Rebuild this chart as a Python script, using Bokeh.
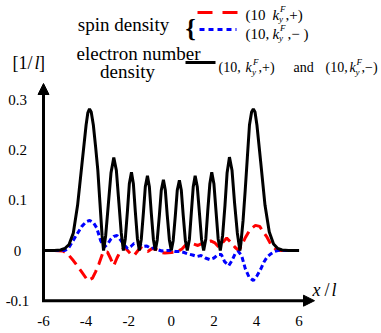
from bokeh.plotting import figure
from bokeh.models import Range1d, Arrow, NormalHead, FixedTicker
from bokeh.core.properties import value
from bokeh.embed import file_html
from bokeh.resources import INLINE

# ---------------- data ----------------
# electron number density (black)
x_num = [-6.0, -5.5, -5.2, -5.0, -4.8, -4.6, -4.4, -4.2, -4.0, -3.92, -3.84, -3.76, -3.66, -3.55, -3.45, -3.35, -3.25, -3.18,
         -3.08, -2.96, -2.83, -2.70, -2.58, -2.46, -2.35, -2.25,
         -2.16, -2.06, -1.97, -1.87, -1.78, -1.69, -1.59, -1.50,
         -1.41, -1.31, -1.22, -1.12, -1.03, -0.94, -0.84, -0.75,
         -0.66, -0.56, -0.47, -0.37, -0.28, -0.19, -0.09, 0.00,
         0.09, 0.19, 0.28, 0.38, 0.47, 0.56, 0.66, 0.75,
         0.85, 0.94, 1.03, 1.12, 1.22, 1.32, 1.42, 1.52,
         1.62, 1.71, 1.81, 1.90, 2.00, 2.10, 2.20, 2.30,
         2.41, 2.52, 2.62, 2.73, 2.85, 2.97, 3.10, 3.22,
         3.27, 3.37, 3.47, 3.57, 3.67, 3.77, 3.85, 3.93, 4.02, 4.20, 4.40, 4.60, 4.80, 5.00, 5.20, 5.50, 6.00]
y_num = [0.0, 0.0, 0.001, 0.004, 0.012, 0.035, 0.09, 0.17, 0.25, 0.274, 0.282, 0.276, 0.25, 0.205, 0.16, 0.095, 0.03, 0.0,
         0.03, 0.09, 0.155, 0.185, 0.16, 0.095, 0.035, 0.0,
         0.023, 0.078, 0.133, 0.156, 0.133, 0.078, 0.023, 0.0,
         0.022, 0.075, 0.127, 0.149, 0.127, 0.075, 0.022, 0.0,
         0.021, 0.07, 0.12, 0.141, 0.12, 0.07, 0.021, 0.0,
         0.02, 0.07, 0.12, 0.14, 0.12, 0.07, 0.02, 0.0,
         0.022, 0.075, 0.127, 0.149, 0.127, 0.075, 0.022, 0.0,
         0.023, 0.078, 0.133, 0.156, 0.133, 0.078, 0.023, 0.0,
         0.03, 0.09, 0.155, 0.186, 0.16, 0.095, 0.035, 0.0,
         0.015, 0.06, 0.12, 0.185, 0.25, 0.276, 0.282, 0.276, 0.25, 0.175, 0.09, 0.037, 0.013, 0.004, 0.001, 0.0, 0.0]

# spin density (10, k_y^F, +)  red dashed
x_up = [-5.5, -5.1, -4.9, -4.6, -4.25, -3.92, -3.7, -3.55, -3.4, -3.2, -3.0, -2.85, -2.7, -2.55, -2.4, -2.2, -2.05,
        -1.9, -1.75, -1.6, -1.45, -1.3, -1.1, -0.9, -0.7, -0.5, -0.3, 0.0, 0.25, 0.5, 0.65, 0.85, 1.05, 1.25, 1.45,
        1.65, 1.85, 2.05, 2.23, 2.4, 2.6, 2.78, 3.0, 3.17, 3.3, 3.48, 3.7, 3.95, 4.15, 4.35, 4.5, 4.7, 4.9, 5.1, 5.5]
y_up = [0.0, -0.001, -0.005, -0.02, -0.04, -0.06, -0.055, -0.042, -0.027, -0.003, -0.003, -0.016, -0.03, -0.015, -0.002,
        0.006, 0.0, -0.007, -0.01, -0.002, 0.006, 0.003, -0.002, 0.004, 0.002, -0.004, -0.005, -0.004, -0.003, 0.003,
        0.01, 0.012, 0.013, 0.01, 0.014, 0.017, 0.019, 0.015, 0.007, 0.015, 0.025, 0.017, 0.006, 0.0, 0.01, 0.026,
        0.042, 0.05, 0.048, 0.035, 0.026, 0.01, 0.003, 0.0, 0.0]

# spin density (10, k_y^F, -)  blue dotted
x_dn = [-5.5, -5.0, -4.85, -4.65, -4.42, -4.2, -4.0, -3.83, -3.65, -3.5, -3.32, -3.15, -3.0, -2.85, -2.7, -2.55, -2.4,
        -2.23, -2.05, -1.9, -1.75, -1.55, -1.35, -1.15, -0.95, -0.75, -0.6, -0.45, -0.25, 0.0, 0.2, 0.4, 0.6, 0.8,
        1.0, 1.2, 1.4, 1.6, 1.8, 2.0, 2.2, 2.35, 2.5, 2.7, 2.85, 3.0, 3.15, 3.3, 3.48, 3.65, 3.85, 4.03, 4.2, 4.35,
        4.5, 4.66, 4.85, 5.0, 5.5]
y_dn = [0.0, 0.0, 0.003, 0.017, 0.033, 0.048, 0.057, 0.06, 0.055, 0.045, 0.02, 0.007, 0.012, 0.022, 0.028, 0.03, 0.022,
        0.012, 0.004, 0.008, 0.014, 0.014, 0.008, 0.009, 0.004, 0.006, 0.001, -0.001, 0.0, 0.0, -0.002, -0.002,
        -0.004, -0.007, -0.009, -0.012, -0.01, -0.015, -0.018, -0.015, -0.008, -0.008, -0.022, -0.03, -0.02, -0.006,
        -0.002, -0.01, -0.037, -0.053, -0.06, -0.05, -0.037, -0.023, -0.013, -0.007, -0.002, 0.0, 0.0]

x_ticks = [-6, -4, -2, 0, 2, 4, 6]
x_tick_labels = ["-6", "-4", "-2", "0", "2", "4", "6"]
y_ticks = [-0.1, 0, 0.1, 0.2, 0.3]
y_tick_labels = ["-0.1", "0", "0.1", "0.2", "0.3"]

assert len(x_num) == len(y_num) and len(x_up) == len(y_up) and len(x_dn) == len(y_dn)

# ---------------- layout helpers (page pixel -> data) ----------------
PX0, PXU = 43.0, 21.3      # page x of x=-6, pixels per unit
PY0, PYU = 250.0, 502.0    # page y of y=0, pixels per unit


def X(px):
    return -6 + (px - PX0) / PXU


def Y(py):
    return (PY0 - py) / PYU


FONT = "Liberation Serif"

p = figure(width=381, height=333, output_backend="svg", toolbar_location=None,
           x_range=Range1d(X(0), X(381)), y_range=Range1d(Y(311), Y(0)),
           y_axis_location=None,
           min_border_left=0, min_border_right=0, min_border_top=0, min_border_bottom=22)
p.grid.visible = False
p.outline_line_color = None
p.background_fill_color = "white"
p.border_fill_color = "white"

ax = p.xaxis[0]
ax.ticker = FixedTicker(ticks=x_ticks)
ax.major_label_overrides = {t: l for t, l in zip(x_ticks, x_tick_labels)}
ax.axis_line_color = None
ax.major_tick_line_color = None
ax.minor_tick_line_color = None
ax.major_tick_out = 0
ax.major_tick_in = 0
ax.major_label_text_font = FONT
ax.major_label_text_font_size = "15px"
ax.major_label_text_color = "black"
ax.major_label_standoff = 4

# y tick labels, placed on the y scale left of the axis line
p.text(x=[X(17)] * len(y_ticks), y=y_ticks, text=y_tick_labels, text_font=value(FONT),
       text_font_size="15px", text_align="center", text_baseline="middle", text_color="black")

# curves
p.line(x_up, y_up, line_color="red", line_width=3, line_dash="11 6")
p.line(x_dn, y_dn, line_color="blue", line_width=3, line_dash="5 3")
p.line(x_num, y_num, line_color="black", line_width=3)

# axes with arrows
p.add_layout(Arrow(end=NormalHead(size=11, fill_color="black", line_color="black"),
                   x_start=-6, y_start=Y(301.5), x_end=-6, y_end=Y(83), line_width=3, line_color="black"))
p.add_layout(Arrow(end=NormalHead(size=11, fill_color="black", line_color="black"),
                   x_start=X(41.5), y_start=-0.1, x_end=X(314), y_end=-0.1, line_width=3, line_color="black"))


def txt(px, py, s, size, style="normal", align="left", baseline="alphabetic"):
    p.text(x=[X(px)], y=[Y(py)], text=[s], text_font=value(FONT), text_font_size=size,
           text_font_style=style, text_align=align, text_baseline=baseline, text_color="black")


# legend block
txt(123, 24, "spin density", "19px", align="center")
txt(190, 28, "{", "26px", style="bold", align="center")
p.segment(x0=[X(197)], y0=[Y(12)], x1=[X(237)], y1=[Y(12)], line_color="red", line_width=3, line_dash="15 10")
p.segment(x0=[X(199)], y0=[Y(29)], x1=[X(236)], y1=[Y(29)], line_color="blue", line_width=3, line_dash="5 4")

txt(245, 14, "(10", "15px")
txt(272, 14, "k", "15px", style="italic")
txt(279.5, 8, "F", "9px", style="italic")
txt(278.5, 18, "y", "9px", style="italic")
txt(285, 14, ",+)", "15px")

txt(245, 33, "(10,", "15px")
txt(272, 33, "k", "15px", style="italic")
txt(279.5, 27, "F", "9px", style="italic")
txt(278.5, 37, "y", "9px", style="italic")
txt(287, 33, ",\u2212 )", "15px")

txt(138, 53, "electron number", "19px", align="center")
txt(127, 71, "density", "19px", align="center")
p.segment(x0=[X(185)], y0=[Y(62)], x1=[X(215)], y1=[Y(62)], line_color="black", line_width=3)

txt(218, 67, "(10,", "14px")
txt(245, 67, "k", "14px", style="italic")
txt(252.5, 61, "F", "9px", style="italic")
txt(251.5, 71, "y", "9px", style="italic")
txt(258, 67, ",+)", "14px")
txt(293, 67, "and", "14px")
txt(325, 67, "(10,", "14px")
txt(349, 67, "k", "14px", style="italic")
txt(356, 61, "F", "9px", style="italic")
txt(355, 71, "y", "9px", style="italic")
txt(361, 67, ",\u2212)", "14px")

# x-axis label
txt(312, 289, "x", "18px", style="italic")
txt(324, 289, "/", "18px")
txt(331, 289, "l", "18px", style="italic")

# y-axis unit label
txt(12, 62, "[1/", "18px")
txt(34, 62, "l", "18px", style="italic")
txt(38.5, 62, "]", "18px")

open("out.html", "w").write(file_html(p, INLINE))
